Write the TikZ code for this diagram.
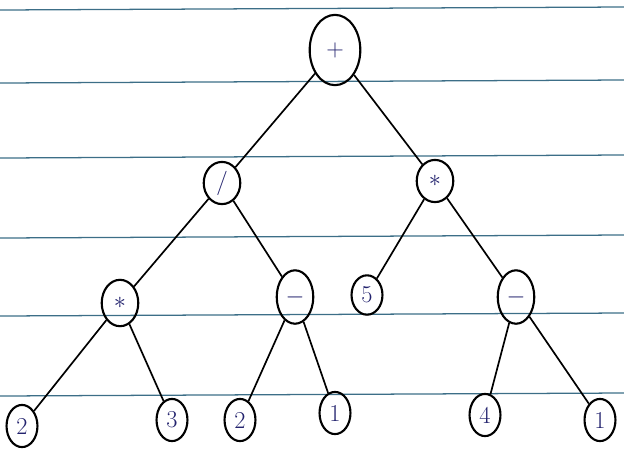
\documentclass[tikz,border=0pt]{standalone}
\usetikzlibrary{shapes.geometric}
\definecolor{ink}{RGB}{35,35,110}
\definecolor{rule}{RGB}{60,110,135}
\begin{document}
\begin{tikzpicture}[x=0.025cm, y=-0.025cm,
  op/.style={ellipse, draw, line width=1.5pt, inner sep=0pt, minimum width=26pt, minimum height=30pt, text=ink, font=\LARGE\bfseries},
  leaf/.style={ellipse, draw, line width=1.5pt, inner sep=0pt, minimum width=22pt, minimum height=30pt, text=ink, font=\LARGE},
  edge/.style={line width=1.2pt}]
\useasboundingbox (0,0) rectangle (624,456);
% ruled paper
\foreach \yy in {10,83,158,238,316,396}
  \draw[rule, line width=0.9pt] (0,\yy) -- (624,\yy-3);
% root
\node[op, minimum width=36pt, minimum height=50pt] (plus) at (335,50) {$+$};
% second level
\node[op] (div) at (222,183) {$/$};
\node[op] (mulR) at (435,181) {$*$};
% third level
\node[op, minimum height=33pt] (mulL) at (120,303) {$*$};
\node[op, minimum height=38pt] (subL) at (295,297) {$-$};
\node[leaf, minimum height=28pt] (five) at (367,295) {5};
\node[op, minimum height=38pt] (subR) at (516,297) {$-$};
% leaves
\node[leaf] (a) at (22,426) {2};
\node[leaf] (b) at (172,420) {3};
\node[leaf] (c) at (240,420) {2};
\node[leaf] (d) at (335,413) {1};
\node[leaf] (e) at (485,415) {4};
\node[leaf] (f) at (600,420) {1};
% edges
\draw[edge] (plus) -- (div);
\draw[edge] (plus) -- (mulR);
\draw[edge] (div) -- (mulL);
\draw[edge] (div) -- (subL);
\draw[edge] (mulR) -- (five);
\draw[edge] (mulR) -- (subR);
\draw[edge] (mulL) -- (a);
\draw[edge] (mulL) -- (b);
\draw[edge] (subL) -- (c);
\draw[edge] (subL) -- (d);
\draw[edge] (subR) -- (e);
\draw[edge] (subR) -- (f);
\end{tikzpicture}
\end{document}
